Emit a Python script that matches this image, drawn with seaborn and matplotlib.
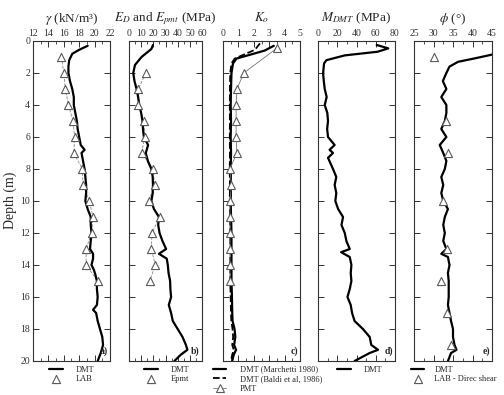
import numpy as np
import matplotlib
matplotlib.use('Agg')
import matplotlib.pyplot as plt
import seaborn as sns

# ---- data ----
# a) unit weight
gamma_depth = [0.3, 0.55, 0.8, 1.2, 1.6, 2.0, 2.5, 3.0, 3.5, 4.0, 4.5, 5.0, 5.5, 6.0, 6.5, 6.8,
               7.0, 7.5, 8.0, 8.5, 9.0, 9.5, 10.0, 10.5, 11.0, 11.5, 12.0, 12.5, 13.0, 13.3, 13.6,
               14.0, 14.3, 14.6, 15.0, 15.5, 16.0, 16.5, 16.8, 17.0, 17.5, 18.0, 18.5, 19.0, 19.5, 20.0]
gamma_dmt = [19.1, 18.0, 17.1, 16.7, 16.6, 16.6, 16.8, 17.1, 17.3, 17.3, 17.5, 17.7, 17.8, 18.0, 18.2, 18.7,
             18.3, 18.5, 18.7, 18.8, 18.9, 18.9, 18.8, 19.1, 19.5, 19.5, 19.6, 19.5, 19.4, 19.8, 19.8,
             19.6, 19.9, 20.1, 20.3, 20.3, 20.4, 20.3, 19.8, 20.2, 20.4, 20.7, 21.0, 21.1, 20.8, 20.4]
lab_depth = [1, 2, 3, 4, 5, 6, 7, 8, 9, 10, 11, 12, 13, 14, 15]
gamma_lab = [15.7, 16.0, 16.2, 16.6, 17.2, 17.4, 17.3, 18.4, 18.5, 19.3, 19.8, 19.6, 18.9, 18.9, 20.4]

# b) moduli
ed_depth = [0.25, 0.5, 1.0, 1.5, 2.0, 2.5, 3.0, 3.5, 4.0, 4.5, 5.0, 5.5, 6.0, 6.5, 7.0, 7.5, 8.0, 8.5,
            9.0, 9.5, 10.0, 10.5, 11.0, 11.5, 12.0, 12.5, 13.0, 13.3, 13.6, 14.0, 14.5, 15.0, 15.5,
            16.0, 16.5, 17.0, 17.5, 18.0, 18.5, 19.0, 19.3, 19.6, 20.0]
ed_dmt = [19.7, 18.4, 10.3, 4.9, 3.5, 4.5, 6.2, 7.5, 8.4, 10.0, 11.1, 11.5, 12.2, 15.7, 13.8, 15.5, 18.4, 19.5,
          19.7, 19.5, 18.4, 20.5, 24.6, 24.0, 25.1, 27.5, 30.5, 24.6, 31.0, 31.9, 32.5, 33.8, 34.0,
          34.6, 32.7, 34.6, 36.0, 40.0, 44.0, 46.8, 48.0, 42.7, 37.3]
epmt_depth = [2, 3, 4, 5, 6, 7, 8, 9, 10, 11, 12, 13, 14, 15]
epmt = [13.8, 7.6, 7.6, 12.2, 13.0, 10.3, 19.7, 21.1, 16.2, 25.1, 18.9, 18.4, 21.6, 17.0]

# c) Ko
ko_depth = [0.3, 0.6, 1.1, 1.4, 2.0, 3.0, 4.0, 5.0, 6.0, 7.0, 8.0, 9.0, 10.0, 11.0, 12.0, 13.0,
            14.0, 15.0, 16.0, 17.0, 17.5, 18.0, 18.5, 19.0, 19.3, 19.6, 20.0]
ko_marchetti = [3.3, 2.7, 0.87, 0.65, 0.55, 0.52, 0.5, 0.52, 0.5, 0.52, 0.5, 0.52, 0.5, 0.52, 0.55, 0.55,
                0.55, 0.55, 0.58, 0.6, 0.62, 0.75, 0.8, 0.72, 0.85, 0.7, 0.6]
ko_baldi_depth = [0.15, 0.55, 1.1, 1.4, 2.0, 3.0, 4.0, 5.0, 6.0, 7.0, 8.0, 9.0, 10.0, 11.0, 12.0, 13.0,
                  14.0, 15.0, 16.0, 17.0, 17.5, 18.0, 18.5, 19.0, 19.3, 19.6, 20.0]
ko_baldi = [2.4, 2.07, 0.76, 0.55, 0.47, 0.45, 0.44, 0.45, 0.44, 0.45, 0.44, 0.45, 0.44, 0.45, 0.47, 0.47,
            0.47, 0.47, 0.5, 0.52, 0.54, 0.62, 0.66, 0.6, 0.7, 0.6, 0.52]
pmt_depth = [0.45, 2, 3, 4, 5, 6, 7, 8, 9, 10, 11, 12, 13, 14, 15]
ko_pmt = [3.5, 1.35, 0.9, 0.85, 0.85, 0.85, 0.9, 0.45, 0.55, 0.45, 0.45, 0.45, 0.45, 0.45, 0.45]

# d) M_DMT
m_depth = [0.25, 0.46, 0.67, 0.9, 1.2, 1.4, 2.0, 2.5, 3.0, 3.5, 4.0, 4.5, 5.0, 5.5, 6.0, 6.5, 6.8, 7.0,
           7.3, 8.0, 8.5, 9.0, 9.5, 10.0, 10.5, 11.0, 11.5, 12.0, 12.5, 13.0, 13.2, 13.5, 14.0,
           14.5, 15.0, 15.5, 16.0, 16.5, 17.0, 17.5, 18.0, 18.5, 19.0, 19.3, 19.5, 20.0]
m_dmt = [61, 73, 62, 27.7, 8.7, 6.3, 5.3, 6.0, 7.0, 9.0, 7.0, 9.7, 10.4, 9.5, 10.4, 17.3, 12.0, 15.6,
         10.4, 15.6, 19.0, 17.3, 19.0, 18.0, 20.9, 26.0, 24.4, 27.8, 29.5, 33.0, 24.0, 33.0, 34.7,
         34.0, 34.7, 33.0, 30.6, 34.0, 35.4, 38.0, 46.7, 53.7, 55.4, 62.4, 53.7, 38.0]

# e) friction angle
phi_depth = [0.85, 1.08, 1.3, 1.6, 2.0, 2.5, 3.0, 3.5, 4.0, 4.5, 5.0, 5.5, 6.0, 6.5, 7.0, 7.5, 8.0, 8.5,
             9.0, 9.5, 10.0, 10.5, 11.0, 11.5, 12.0, 12.5, 13.0, 13.3, 13.5, 14.0, 14.5, 15.0, 15.5,
             16.0, 16.5, 17.0, 17.5, 18.0, 18.5, 19.0, 19.3, 19.5, 20.0]
phi_dmt = [45, 40.7, 36.3, 34.1, 33.3, 32.4, 33.3, 32.0, 33.3, 33.3, 32.9, 32.0, 33.3, 31.6, 32.5, 33.3, 32.9, 32.0,
           32.5, 32.0, 32.5, 33.7, 32.9, 32.5, 32.9, 32.5, 33.3, 32.0, 33.7, 34.1, 33.7, 33.9, 33.9,
           33.9, 33.7, 34.1, 34.5, 35.0, 35.0, 35.4, 35.9, 34.5, 33.7]
shear_depth = [1, 5, 7, 10, 13, 15, 17, 19]
phi_lab = [30.0, 33.3, 33.7, 32.5, 33.4, 32.0, 33.5, 34.4]

# ---- style ----
sns.set_style('ticks')
plt.rcParams['font.family'] = ['Liberation Serif', 'DejaVu Serif']
plt.rcParams['mathtext.fontset'] = 'stix'

W, H = 504, 395
fig = plt.figure(figsize=(W / 100, H / 100), dpi=100)

panel_px = [(33, 110), (129, 202), (223, 300), (318, 395), (414, 492)]
top_px, bot_px = 41, 361
axes = []
for x0, x1 in panel_px:
    ax = fig.add_axes([x0 / W, 1 - bot_px / H, (x1 - x0) / W, (bot_px - top_px) / H])
    axes.append(ax)

tri = dict(marker='^', s=34, facecolor='white', edgecolor='#5a5a5a', linewidth=0.8, zorder=3)

# a)
ax = axes[0]
sns.lineplot(x=gamma_lab, y=lab_depth, sort=False, estimator=None, ax=ax, color='#888888',
             linewidth=0.6, linestyle='--')
sns.lineplot(x=gamma_dmt, y=gamma_depth, sort=False, estimator=None, ax=ax, color='black',
             linewidth=1.6, label='DMT')
sns.scatterplot(x=gamma_lab, y=lab_depth, ax=ax, label='LAB', **tri)

# b)
ax = axes[1]
sns.lineplot(x=epmt, y=epmt_depth, sort=False, estimator=None, ax=ax, color='#888888',
             linewidth=0.6, linestyle='--')
sns.lineplot(x=ed_dmt, y=ed_depth, sort=False, estimator=None, ax=ax, color='black',
             linewidth=1.6, label='DMT')
sns.scatterplot(x=epmt, y=epmt_depth, ax=ax, label='Epmt', **tri)

# c)
ax = axes[2]
sns.lineplot(x=ko_marchetti, y=ko_depth, sort=False, estimator=None, ax=ax, color='black',
             linewidth=1.6, label='DMT (Marchetti 1980)')
sns.lineplot(x=ko_baldi, y=ko_baldi_depth, sort=False, estimator=None, ax=ax, color='black',
             linewidth=1.3, linestyle='--', label='DMT (Baldi et al, 1986)')
sns.lineplot(x=ko_pmt, y=pmt_depth, sort=False, estimator=None, ax=ax, color='#777777',
             linewidth=0.6, marker='^', markersize=6, markerfacecolor='white',
             markeredgecolor='#5a5a5a', markeredgewidth=0.8, label='PMT')

# d)
ax = axes[3]
sns.lineplot(x=m_dmt, y=m_depth, sort=False, estimator=None, ax=ax, color='black',
             linewidth=1.6, label='DMT')

# e)
ax = axes[4]
sns.lineplot(x=phi_dmt, y=phi_depth, sort=False, estimator=None, ax=ax, color='black',
             linewidth=1.6, label='DMT')
sns.scatterplot(x=phi_lab, y=shear_depth, ax=ax, label='LAB - Direc shear', **tri)

titles = [r'$\gamma$ (kN/m³)', r'$E_D$ and $E_{pmt}$ (MPa)', r'$K_o$',
          r'$M_{DMT}$ (MPa)', r'$\phi$ (°)']
xlims = [(12, 22), (0, 60), (0, 5), (0, 80), (25, 45)]
majors = [2, 10, 1, 20, 5]
letters = ['a)', 'b)', 'c)', 'd)', 'e)']
leg_x = [0.2, 0.2, -0.14, 0.24, -0.05]
leg_pad = [1.6, 1.6, 1.6, 1.6, 1.2]

for i, ax in enumerate(axes):
    lo, hi = xlims[i]
    ax.set_xlim(lo, hi)
    ax.set_ylim(20, 0)
    ax.set_xticks(np.arange(lo, hi + 0.01, majors[i]))
    ax.set_xticks(np.arange(lo, hi + 0.01, majors[i] / 2), minor=True)
    ax.set_yticks(np.arange(0, 21, 2))
    ax.xaxis.tick_top()
    ax.tick_params(axis='x', which='both', top=True, bottom=True, labeltop=True,
                   labelbottom=False, direction='in', labelsize=7, pad=2, colors='#333333')
    ax.tick_params(axis='x', which='major', length=4, width=0.7)
    ax.tick_params(axis='x', which='minor', length=2.5, width=0.6)
    ax.tick_params(axis='y', which='major', left=True, right=True, direction='in', length=4,
                   width=0.7, labelsize=7, pad=2, colors='#333333')
    if i > 0:
        ax.tick_params(axis='y', labelleft=False)
    for sp in ax.spines.values():
        sp.set_visible(True)
        sp.set_linewidth(0.8)
        sp.set_color('#333333')
    ax.set_xlabel('')
    ax.set_ylabel('')
    ax.set_title(titles[i], fontsize=9.5, pad=14)
    ax.text(0.97, 0.015, letters[i], transform=ax.transAxes, ha='right', va='bottom',
            fontsize=7, fontweight='bold')
    ax.legend(loc='upper left', bbox_to_anchor=(leg_x[i], -0.012), frameon=False, fontsize=6,
              handlelength=1.6, handletextpad=leg_pad[i], borderpad=0.1, labelspacing=0.2,
              borderaxespad=0)

fig.text(10 / W, 1 - 200 / H, 'Depth (m)', rotation=90, ha='center', va='center', fontsize=10)

fig.savefig('out.png', dpi=100)
